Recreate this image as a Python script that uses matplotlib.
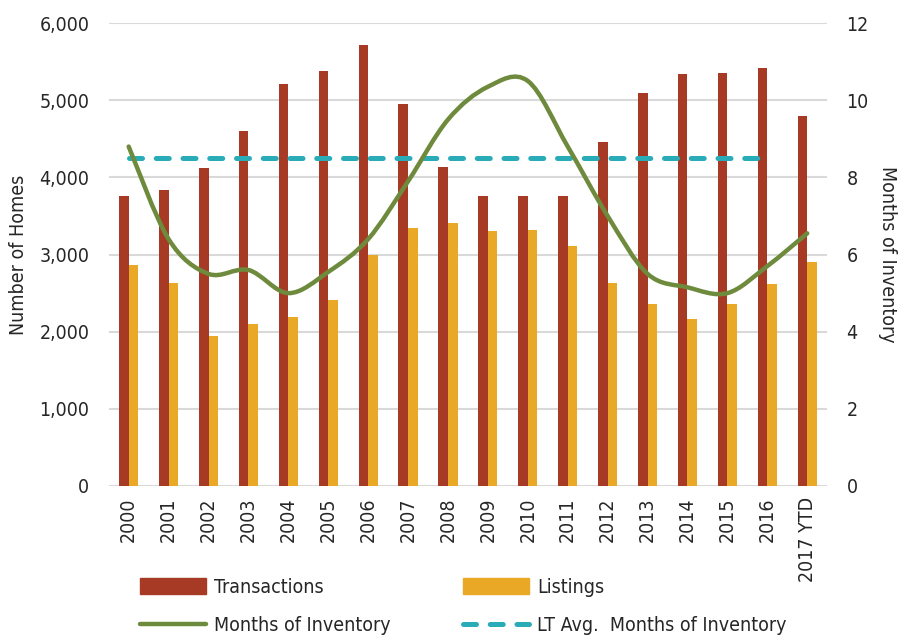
import numpy as np
import matplotlib.pyplot as plt
from matplotlib.path import Path
from matplotlib.patches import PathPatch
from matplotlib.lines import Line2D
from matplotlib.ticker import FuncFormatter

plt.rcParams['font.family'] = ['DejaVu Sans']
plt.rcParams['font.stretch'] = 'condensed'

years = ['2000', '2001', '2002', '2003', '2004', '2005', '2006', '2007', '2008',
         '2009', '2010', '2011', '2012', '2013', '2014', '2015', '2016', '2017 YTD']
transactions = [3760, 3840, 4120, 4600, 5210, 5380, 5710, 4950, 4130,
                3760, 3760, 3765, 4460, 5090, 5340, 5355, 5420, 4790]
listings = [2870, 2635, 1950, 2095, 2185, 2410, 3000, 3350, 3410,
            3300, 3320, 3110, 2625, 2355, 2160, 2355, 2615, 2900]
months_inv = [8.8, 6.4, 5.5, 5.6, 5.0, 5.55, 6.4, 7.9, 9.5,
              10.35, 10.5, 8.8, 7.0, 5.5, 5.15, 5.0, 5.7, 6.55]
lt_avg = [8.5] * 17

RED = '#A63A24'
GOLD = '#E9A825'
GREEN = '#6E8B3D'
TEAL = '#2AACB8'
TXT = '#262626'
DASH = (2.6, 2.75)

fig = plt.figure(figsize=(9.06, 6.42), dpi=100)
ax = fig.add_axes([0.120, 0.243, 0.793, 0.721])
X = np.arange(len(years))
w = 0.24
ax.bar(X - w / 2, transactions, width=w, color=RED, label='Transactions', zorder=2)
ax.bar(X + w / 2, listings, width=w, color=GOLD, label='Listings', zorder=2)
ax.set_ylim(0, 6000)
ax.set_xlim(-0.5, len(years) - 0.5)
ax.set_yticks(np.arange(0, 6001, 1000))
ax.yaxis.set_major_formatter(FuncFormatter(lambda v, p: f'{int(v):,}'))
ax.grid(axis='y', color='#D9D9D9', linewidth=1.5, zorder=0)
ax.set_axisbelow(True)
ax.set_xticks(X)
ax.set_xticklabels(years, rotation=90)
for s in ax.spines.values():
    s.set_visible(False)
ax.tick_params(length=0, labelsize=14, colors=TXT, pad=14)
ax.tick_params(axis='x', pad=8)
ax.set_ylabel('Number of Homes', fontsize=14, color=TXT, labelpad=8)

ax2 = ax.twinx()
ax2.set_ylim(0, 12)
ax2.set_yticks(np.arange(0, 13, 2))
for s in ax2.spines.values():
    s.set_visible(False)
ax2.tick_params(length=0, labelsize=14, colors=TXT, pad=14)
ax2.set_ylabel('Months of Inventory', fontsize=14, color=TXT, rotation=270, labelpad=20)

ax2.plot(np.arange(len(lt_avg)), lt_avg, color=TEAL, linewidth=3.6,
         dashes=DASH, dash_capstyle='round', zorder=3)

# smoothed line (Catmull-Rom style bezier like a spreadsheet's smoothed line)
pts = np.column_stack([X, months_inv]).astype(float)
n = len(pts)
verts = [pts[0]]
codes = [Path.MOVETO]
for i in range(n - 1):
    p0 = pts[i - 1] if i > 0 else pts[i]
    p1 = pts[i]
    p2 = pts[i + 1]
    p3 = pts[i + 2] if i + 2 < n else pts[i + 1]
    c1 = p1 + (p2 - p0) / 6
    c2 = p2 - (p3 - p1) / 6
    verts += [c1, c2, p2]
    codes += [Path.CURVE4] * 3
ax2.add_patch(PathPatch(Path(verts, codes), fill=False, edgecolor=GREEN,
                        linewidth=3.2, capstyle='round', zorder=4))

handles = [
    plt.Rectangle((0, 0), 1, 1, color=RED),
    Line2D([], [], color=GREEN, linewidth=3.2, solid_capstyle='round'),
    plt.Rectangle((0, 0), 1, 1, color=GOLD),
    Line2D([], [], color=TEAL, linewidth=3.6, dashes=DASH, dash_capstyle='round'),
]
labels = ['Transactions', 'Months of Inventory', 'Listings', 'LT Avg.  Months of Inventory']
leg = fig.legend(handles, labels, ncol=2, loc='center left',
                 bbox_to_anchor=(0.135, 0.055), frameon=False, fontsize=14,
                 handlelength=3.4, handleheight=0.9, columnspacing=3.75,
                 labelspacing=1.0, handletextpad=0.4)
for t in leg.get_texts():
    t.set_color(TXT)

plt.savefig('out.png', dpi=100)
